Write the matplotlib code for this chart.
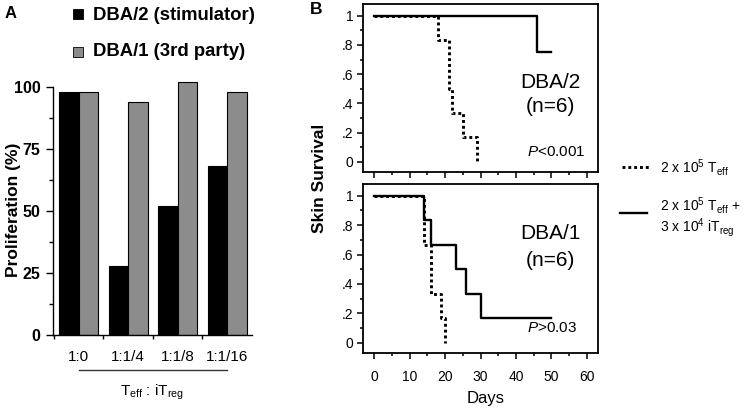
import matplotlib
matplotlib.use('Agg')
import matplotlib.pyplot as plt
from matplotlib.patches import Rectangle
from matplotlib.lines import Line2D

plt.rcParams['font.family'] = ['Liberation Sans', 'DejaVu Sans']
plt.rcParams['mathtext.fontset'] = 'custom'
plt.rcParams['mathtext.rm'] = 'Liberation Sans'
plt.rcParams['mathtext.it'] = 'Liberation Sans:italic'
plt.rcParams['mathtext.bf'] = 'Liberation Sans:bold'

# panel A data
ratios = ['1:0', '1:1/4', '1:1/8', '1:1/16']
dba2_prolif = [98, 28, 52, 68]
dba1_prolif = [98, 94, 102, 98]

# panel B data (Kaplan-Meier steps)
top_teff_days = [0, 18, 21, 22, 25, 29]
top_teff_surv = [1, 0.833, 0.5, 0.333, 0.167, 0]
top_treg_days = [0, 46, 50]
top_treg_surv = [1, 0.75, 0.75]
bot_teff_days = [0, 14, 16, 19, 20]
bot_teff_surv = [1, 0.667, 0.333, 0.167, 0]
bot_treg_days = [0, 14, 16, 23, 26, 30, 50]
bot_treg_surv = [1, 0.833, 0.667, 0.5, 0.333, 0.167, 0.167]

W, H = 750, 413
fig = plt.figure(figsize=(7.5, 4.13), dpi=100)


def fbox(l, t, r, b):
    return [l / W, 1 - b / H, (r - l) / W, (b - t) / H]


# ---------------- panel A ----------------
ax = fig.add_axes(fbox(53, 74.6, 252, 335))
x = range(len(ratios))
bw = 0.39
ax.bar([i - bw / 2 for i in x], dba2_prolif, bw, color='black', edgecolor='black', lw=0.8)
ax.bar([i + bw / 2 for i in x], dba1_prolif, bw, color='#8c8c8c', edgecolor='black', lw=0.8)
ax.set_xlim(-0.52, 3.5)
ax.set_ylim(0, 105)
for s in ['top', 'right']:
    ax.spines[s].set_visible(False)
ax.spines['left'].set_bounds(0, 100)
ax.spines['left'].set_linewidth(1)
ax.spines['bottom'].set_linewidth(1)
ax.set_yticks([0, 25, 50, 75, 100])
ax.set_yticks([12.5, 37.5, 62.5, 87.5], minor=True)
ax.set_yticklabels(['0', '25', '50', '75', '100'], fontweight='bold', fontsize=11.5)
ax.tick_params(axis='y', which='major', length=5, width=1, pad=4)
ax.tick_params(axis='y', which='minor', length=3, width=1)
ax.set_xticks([-0.5, 0.5, 1.5, 2.5])
ax.set_xticklabels([])
ax.tick_params(axis='x', length=3, width=1)
fig.text(14 / W, 1 - 210 / H, 'Proliferation (%)', rotation=90, fontweight='bold',
         fontsize=12.5, ha='center', va='center')

tr = ax.get_xaxis_transform()
for i, lab in enumerate(ratios):
    ax.text(i, -0.0845, lab, transform=tr, ha='center', va='center', fontsize=11)
ax.plot([0, 3], [-0.134, -0.134], transform=tr, color='#333333', lw=1, clip_on=False)
ax.text(1.48, -0.219, r'T$_{\mathrm{eff}}$ : iT$_{\mathrm{reg}}$', transform=tr,
        ha='center', va='center', fontsize=11)

# legend for panel A
fig.patches.append(Rectangle((73 / W, 1 - 19 / H), 10 / W, 10 / H, transform=fig.transFigure,
                             facecolor='black', edgecolor='black', lw=0.6))
fig.patches.append(Rectangle((73 / W, 1 - 57 / H), 10 / W, 10 / H, transform=fig.transFigure,
                             facecolor='#8c8c8c', edgecolor='black', lw=0.6))
fig.text(93 / W, 1 - 16 / H, 'DBA/2 (stimulator)', fontweight='bold', fontsize=13.3, va='center')
fig.text(93 / W, 1 - 52 / H, 'DBA/1 (3rd party)', fontweight='bold', fontsize=13.3, va='center')

fig.text(11 / W, 1 - 13 / H, 'A', fontweight='bold', fontsize=12, ha='center', va='center')
fig.text(316 / W, 1 - 10 / H, 'B', fontweight='bold', fontsize=12.5, ha='center', va='center')

# ---------------- panel B ----------------
ax1 = fig.add_axes(fbox(363, 4, 598, 172))
ax2 = fig.add_axes(fbox(363, 184, 598, 353))

for a in (ax1, ax2):
    a.set_xlim(-3.1, 63.1)
    a.set_ylim(-0.07, 1.08)
    for s in a.spines.values():
        s.set_linewidth(1.3)
    a.set_yticks([0, 0.2, 0.4, 0.6, 0.8, 1])
    a.set_yticks([0.1, 0.3, 0.5, 0.7, 0.9], minor=True)
    a.set_yticklabels(['0', '.2', '.4', '.6', '.8', '1'], fontsize=10)
    a.set_xticks([0, 10, 20, 30, 40, 50, 60])
    a.set_xticks([5, 15, 25, 35, 45, 55], minor=True)
    a.tick_params(which='major', length=4, width=1.1, pad=3)
    a.tick_params(which='minor', length=2.5, width=1.1)
    a.tick_params(axis='x', labelsize=10, pad=8)

ax1.set_xticklabels([])

dot = dict(color='black', lw=2.1, linestyle=(0, (1, 1)), drawstyle='steps-post',
           dash_capstyle='butt')
sol = dict(color='black', lw=1.7, drawstyle='steps-post')
ax1.plot(top_treg_days, top_treg_surv, **sol)
ax1.plot(top_teff_days, top_teff_surv, **dot)
ax2.plot(bot_treg_days, bot_treg_surv, **sol)
ax2.plot(bot_teff_days, bot_teff_surv, **dot)

ax1.text(0.796, 0.53, 'DBA/2', transform=ax1.transAxes, ha='center', va='center', fontsize=15)
ax1.text(0.796, 0.387, '(n=6)', transform=ax1.transAxes, ha='center', va='center', fontsize=15)
ax1.text(0.945, 0.119, r'$\it{P}$<0.001', transform=ax1.transAxes, ha='right', va='center',
         fontsize=11)
ax2.text(0.796, 0.71, 'DBA/1', transform=ax2.transAxes, ha='center', va='center', fontsize=15)
ax2.text(0.796, 0.55, '(n=6)', transform=ax2.transAxes, ha='center', va='center', fontsize=15)
ax2.text(0.91, 0.148, r'$\it{P}$>0.03', transform=ax2.transAxes, ha='right', va='center',
         fontsize=11)

fig.text(320 / W, 1 - 178 / H, 'Skin Survival', rotation=90, fontweight='bold', fontsize=12.5,
         ha='center', va='center')
fig.text(486 / W, 1 - 398 / H, 'Days', fontsize=12, ha='center', va='center')

# legend for panel B
fig.add_artist(Line2D([622 / W, 649 / W], [1 - 167 / H, 1 - 167 / H], transform=fig.transFigure,
                      color='black', lw=2.1, linestyle=(0, (1, 1)), dash_capstyle='butt'))
fig.add_artist(Line2D([620 / W, 647 / W], [1 - 213 / H, 1 - 213 / H], transform=fig.transFigure,
                      color='black', lw=1.7))
fig.text(660 / W, 1 - 167 / H, r'2 x 10$^5$ T$_{\mathrm{eff}}$', fontsize=10, va='center')
fig.text(660 / W, 1 - 217 / H, '2 x 10$^5$ T$_{\\mathrm{eff}}$ +\n3 x 10$^4$ iT$_{\\mathrm{reg}}$',
         fontsize=10, va='center', linespacing=1.0)

fig.savefig('out.png', dpi=100)
